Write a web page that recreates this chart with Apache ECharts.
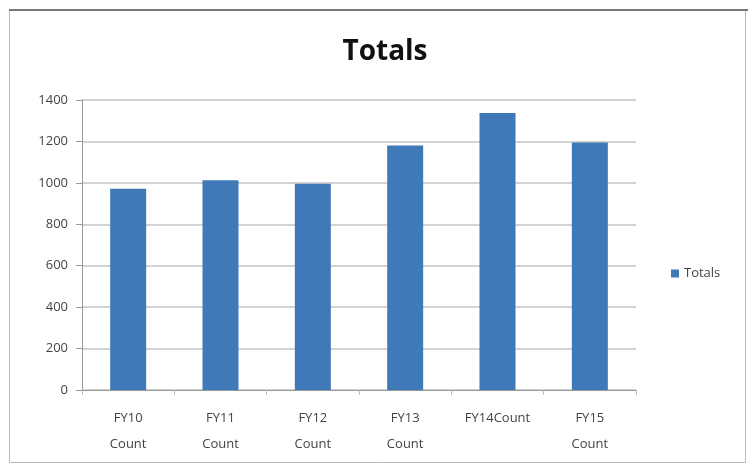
<!DOCTYPE html>
<html>
<head>
<meta charset="utf-8">
<script src="https://cdn.jsdelivr.net/npm/echarts@6/dist/echarts.min.js"></script>
<style>
html,body{margin:0;padding:0;background:#fff;}
#c{width:748px;height:467px;}
</style>
</head>
<body>
<div id="c"></div>
<script>
const categories = ['FY10\nCount', 'FY11\nCount', 'FY12\nCount', 'FY13\nCount', 'FY14Count', 'FY15\nCount'];
const totals = [972, 1012, 996, 1180, 1337, 1195];
const yTicks = { min: 0, max: 1400, interval: 200 };

const chart = echarts.init(document.getElementById('c'));
chart.setOption({
  animation: false,
  backgroundColor: '#fff',
  title: {
    text: 'Totals',
    left: 380, top: 33, textAlign: 'center',
    textStyle: { fontFamily: 'Open Sans', fontWeight: 'bold', fontSize: 28, color: '#111' }
  },
  graphic: [{
    type: 'rect', z: -1,
    shape: { x: 9.5, y: 9.5, width: 736, height: 453 },
    style: { fill: 'none', stroke: '#bbb', lineWidth: 1 }
  }, {
    type: 'line', z: 0,
    shape: { x1: 9, y1: 10, x2: 748, y2: 10 },
    style: { stroke: '#777', lineWidth: 2 }
  }],
  legend: {
    data: ['Totals'], orient: 'vertical', left: 666, top: 262,
    icon: 'rect', itemWidth: 8, itemHeight: 8, itemGap: 5,
    textStyle: { fontFamily: 'Open Sans', fontSize: 13, color: '#444' }
  },
  grid: { left: 82, right: 112, top: 100, bottom: 77 },
  xAxis: {
    type: 'category', data: categories,
    axisLine: { lineStyle: { color: '#999' } },
    axisTick: { show: true, alignWithLabel: false, lineStyle: { color: '#bbb' } },
    axisLabel: { fontFamily: 'Open Sans', fontSize: 13, color: '#444', lineHeight: 26, margin: 15, interval: 0 }
  },
  yAxis: {
    type: 'value', min: yTicks.min, max: yTicks.max, interval: yTicks.interval,
    axisLine: { show: true, lineStyle: { color: '#999' } },
    axisTick: { show: true, length: 6, lineStyle: { color: '#999' } },
    axisLabel: { fontFamily: 'Open Sans', fontSize: 13, color: '#444', margin: 14, formatter: v => String(v) },
    splitLine: { lineStyle: { color: '#c4c4c4', width: 1.5 } }
  },
  series: [{
    name: 'Totals', type: 'bar', data: totals, barWidth: 36,
    itemStyle: { color: '#4079b8' }
  }]
});
</script>
</body>
</html>
